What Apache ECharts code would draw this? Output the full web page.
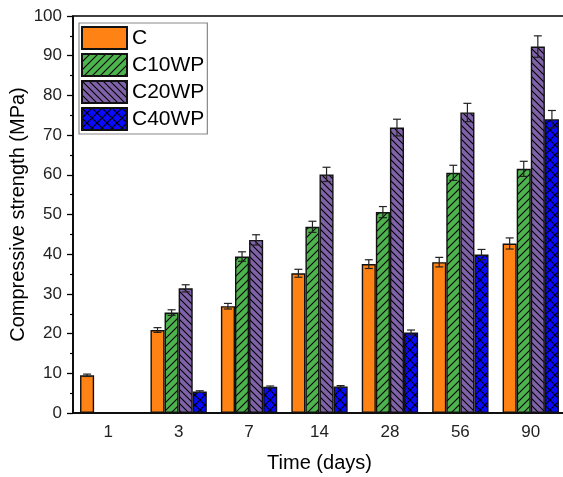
<!DOCTYPE html>
<html>
<head>
<meta charset="utf-8">
<style>html,body{margin:0;padding:0;background:#fff;}#chart{width:563px;height:477px;}</style>
<script src="https://cdn.jsdelivr.net/npm/echarts@6/dist/echarts.min.js"></script>
</head>
<body>
<div id="chart"></div>
<script>
// ---- data ----
var days = ['1', '3', '7', '14', '28', '56', '90'];
var seriesNames = ['C', 'C10WP', 'C20WP', 'C40WP'];
var C_vals = [9.5, 20.9, 26.9, 35.2, 37.5, 38.0, 42.7];
var C_err = [0.3, 0.6, 0.7, 1.0, 1.1, 1.2, 1.4];
var C10_vals = [null, 25.3, 39.4, 46.9, 50.6, 60.5, 61.5];
var C10_err = [null, 0.7, 1.2, 1.4, 1.4, 1.9, 1.9];
var C20_vals = [null, 31.4, 43.6, 60.1, 71.9, 75.7, 92.3];
var C20_err = [null, 0.9, 1.3, 1.8, 2.1, 2.3, 2.7];
var C40_vals = [null, 5.4, 6.6, 6.7, 20.3, 39.9, 74.0];
var C40_err = [null, 0.2, 0.2, 0.2, 0.6, 1.3, 2.2];
var yTicks = [0, 10, 20, 30, 40, 50, 60, 70, 80, 90, 100];

var allVals = [C_vals, C10_vals, C20_vals, C40_vals];
var allErr = [C_err, C10_err, C20_err, C40_err];

// ---- patterns ----
function makePattern(bg, type) {
  var size = type === 'cross' ? 10 : (type === 'back' ? 7 : 8);
  var cv = document.createElement('canvas');
  cv.width = size; cv.height = size;
  var ctx = cv.getContext('2d');
  ctx.fillStyle = bg;
  ctx.fillRect(0, 0, size, size);
  if (type === 'none') return bg;
  ctx.strokeStyle = '#000';
  ctx.lineWidth = 1.1;
  function fwd() {
    ctx.beginPath();
    ctx.moveTo(-1, size + 1); ctx.lineTo(size + 1, -1);
    ctx.moveTo(-1, 1); ctx.lineTo(1, -1);
    ctx.moveTo(size - 1, size + 1); ctx.lineTo(size + 1, size - 1);
    ctx.stroke();
  }
  function back() {
    ctx.beginPath();
    ctx.moveTo(-1, -1); ctx.lineTo(size + 1, size + 1);
    ctx.moveTo(size - 1, -1); ctx.lineTo(size + 1, 1);
    ctx.moveTo(-1, size - 1); ctx.lineTo(1, size + 1);
    ctx.stroke();
  }
  if (type === 'fwd') fwd();
  if (type === 'back') back();
  if (type === 'cross') { fwd(); back(); }
  return { image: cv, repeat: 'repeat' };
}

var fills = [
  makePattern('#FF8214', 'none'),
  makePattern('#4DB34D', 'fwd'),
  makePattern('#7F62A8', 'back'),
  makePattern('#0A0AFF', 'cross')
];

var chart = echarts.init(document.getElementById('chart'), null, { renderer: 'canvas' });

var series = [];
seriesNames.forEach(function (name, i) {
  series.push({
    name: name,
    type: 'bar',
    xAxisIndex: 0,
    barWidth: '20%',
    barGap: '0%',
    data: allVals[i],
    itemStyle: { color: fills[i], borderColor: '#111', borderWidth: 1.4 },
    z: 2
  });
});
seriesNames.forEach(function (name, i) {
  var d = [];
  allVals[i].forEach(function (v, k) {
    if (v !== null) d.push([k, v - allErr[i][k], v + allErr[i][k]]);
  });
  series.push({
    name: 'err_' + name,
    type: 'custom',
    xAxisIndex: 0,
    z: 5,
    encode: { x: 0, y: [1, 2] },
    data: d,
    renderItem: function (params, api) {
      var k = api.value(0);
      var lo = api.coord([k, api.value(1)]);
      var hi = api.coord([k, api.value(2)]);
      var band = api.size([1, 0])[0];
      var bw = band * 0.2;
      var x = lo[0] + (i - 1.5) * bw;
      var cap = 4;
      var st = { stroke: '#222', lineWidth: 1.2 };
      return {
        type: 'group',
        children: [
          { type: 'line', shape: { x1: x, y1: lo[1], x2: x, y2: hi[1] }, style: st },
          { type: 'line', shape: { x1: x - cap, y1: hi[1], x2: x + cap, y2: hi[1] }, style: st },
          { type: 'line', shape: { x1: x - cap, y1: lo[1], x2: x + cap, y2: lo[1] }, style: st }
        ]
      };
    }
  });
});

var option = {
  animation: false,
  backgroundColor: '#fff',
  textStyle: { fontFamily: 'Liberation Sans, Arial, sans-serif' },
  grid: {
    left: 73, right: -3, top: 16, bottom: 64,
    containLabel: false,
    outerBoundsMode: 'none',
    show: true, borderColor: '#000', borderWidth: 1.5, backgroundColor: 'transparent'
  },
  legend: {
    data: seriesNames,
    orient: 'vertical',
    left: 79, top: 23,
    itemWidth: 45, itemHeight: 22, itemGap: 3,
    padding: [3, 3, 3, 2],
    borderColor: '#888', borderWidth: 1.2,
    backgroundColor: '#fff',
    icon: 'rect',
    textStyle: { fontSize: 21, color: '#000', fontFamily: 'Liberation Sans, Arial, sans-serif', padding: [0, 0, 0, 0] }
  },
  xAxis: [
    {
      type: 'category',
      data: days,
      boundaryGap: true,
      name: 'Time (days)',
      nameLocation: 'middle',
      nameGap: 40,
      nameTextStyle: { fontSize: 20, color: '#000' },
      axisLine: { lineStyle: { color: '#000', width: 1.5 } },
      axisTick: { inside: false, alignWithLabel: true, length: 6, lineStyle: { color: '#000', width: 1.3 } },
      axisLabel: { fontSize: 17, color: '#222', margin: 11 },
      splitLine: { show: false }
    },
    {
      type: 'category',
      data: days,
      boundaryGap: true,
      position: 'bottom',
      axisLine: { show: false },
      axisTick: { inside: false, length: 4, lineStyle: { color: '#000', width: 1.3 } },
      axisLabel: { show: false },
      splitLine: { show: false }
    }
  ],
  yAxis: {
    type: 'value',
    min: yTicks[0],
    max: yTicks[yTicks.length - 1],
    interval: yTicks[1] - yTicks[0],
    name: 'Compressive strength (MPa)',
    nameLocation: 'middle',
    nameGap: 45,
    nameMoveOverlap: false,
    nameTextStyle: { fontSize: 20, color: '#000' },
    axisLine: { show: true, lineStyle: { color: '#000', width: 1.5 } },
    axisTick: { show: true, inside: false, length: 6, lineStyle: { color: '#000', width: 1.3 } },
    minorTick: { show: true, splitNumber: 2, length: 3, lineStyle: { color: '#000', width: 1.2 } },
    axisLabel: { fontSize: 17, color: '#222', margin: 11 },
    splitLine: { show: false }
  },
  series: series
};
chart.setOption(option);
</script>
</body>
</html>
